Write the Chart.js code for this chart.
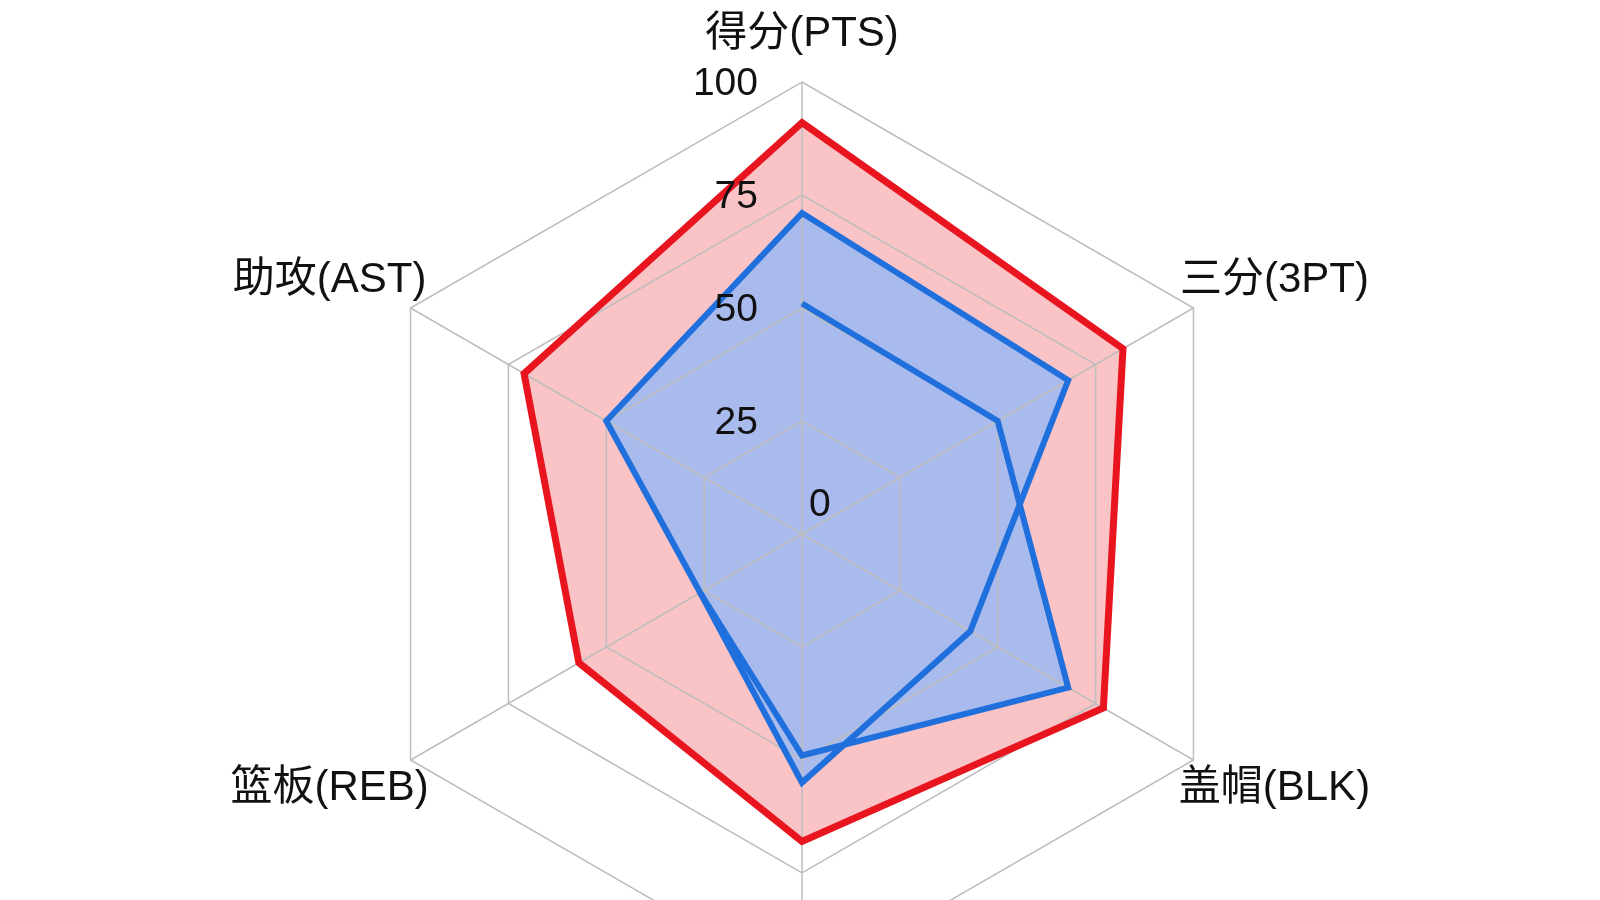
<!DOCTYPE html>
<html>
<head>
<meta charset="utf-8">
<script src="https://cdn.jsdelivr.net/npm/chart.js@4.4.1/dist/chart.umd.min.js"></script>
<style>
  html, body { margin: 0; padding: 0; background: #ffffff; overflow: hidden; }
  #wrap { width: 1600px; height: 1068px; }
</style>
</head>
<body>
<div id="wrap"><canvas id="radarChart"></canvas></div>
<script>
const categories = ['得分(PTS)', '三分(3PT)', '盖帽(BLK)', '抢断(STL)', '篮板(REB)', '助攻(AST)'];
const playerRed = [91, 82, 77, 68, 57, 71];
const playerBlue = [71, 68, 43, 55, 26, 50];
const playerBlueInner = [51, 50, 68, 49, 26, null];
const tickValues = [0, 25, 50, 75, 100];

const labelFont = '42px "Liberation Sans", "Noto Sans CJK SC", sans-serif';
const tickFont = '39px "Liberation Sans", "Noto Sans CJK SC", sans-serif';

// axis names and tick numbers are drawn by hand so they can sit off the axis like the original
const axisText = {
    id: 'axisText',
    afterDraw(chart) {
        const scale = chart.scales.r;
        const ctx = chart.ctx;
        const r = scale.drawingArea;
        ctx.save();
        ctx.fillStyle = '#111111';
        ctx.textBaseline = 'middle';
        ctx.textAlign = 'center';
        ctx.font = labelFont;
        categories.forEach((name, i) => {
            const p = scale.getPointPosition(i, r);
            const sx = Math.sign(Math.round(p.x - scale.xCenter));
            const sy = Math.sign(Math.round(p.y - scale.yCenter));
            const x = p.x + sx * 81;
            const y = sx === 0 ? p.y + sy * 48 : p.y + sy * 28;
            ctx.fillText(name, x, y);
        });
        ctx.font = tickFont;
        tickValues.forEach(v => {
            const d = scale.getDistanceFromCenterForValue(v);
            if (v === 0) {
                ctx.textAlign = 'left';
                ctx.fillText(String(v), scale.xCenter + 7, scale.yCenter - 29);
            } else {
                ctx.textAlign = 'right';
                ctx.fillText(String(v), scale.xCenter - 44, scale.yCenter - d + 2);
            }
        });
        ctx.restore();
    }
};

const ctx = document.getElementById('radarChart').getContext('2d');

new Chart(ctx, {
    type: 'radar',
    data: {
        labels: categories,
        datasets: [
            {
                label: 'B',
                data: playerBlue,
                borderColor: '#1f6fdc',
                backgroundColor: '#a9bbec',
                borderWidth: 6,
                pointRadius: 0,
                borderJoinStyle: 'miter',
                fill: true
            },
            {
                label: 'B2',
                data: playerBlueInner,
                borderColor: '#1f6fdc',
                backgroundColor: '#a9bbec',
                borderWidth: 6,
                pointRadius: 0,
                borderJoinStyle: 'miter',
                spanGaps: false,
                fill: true
            },
            {
                label: 'A',
                data: playerRed,
                borderColor: '#e8141e',
                backgroundColor: '#fac3c6',
                borderWidth: 7,
                pointRadius: 0,
                borderJoinStyle: 'miter',
                fill: true
            }
        ]
    },
    options: {
        responsive: true,
        maintainAspectRatio: false,
        animation: false,
        layout: { padding: { top: 82, bottom: 82, left: 4 } },
        plugins: {
            legend: { display: false },
            tooltip: { enabled: false },
            filler: { drawTime: 'beforeDraw' }
        },
        scales: {
            r: {
                min: 0,
                max: 100,
                ticks: { stepSize: 25, display: false },
                pointLabels: { display: false },
                grid: { color: '#bebebe', lineWidth: 1.5 },
                angleLines: { color: '#bebebe', lineWidth: 1.5 }
            }
        }
    },
    plugins: [axisText]
});
</script>
</body>
</html>
